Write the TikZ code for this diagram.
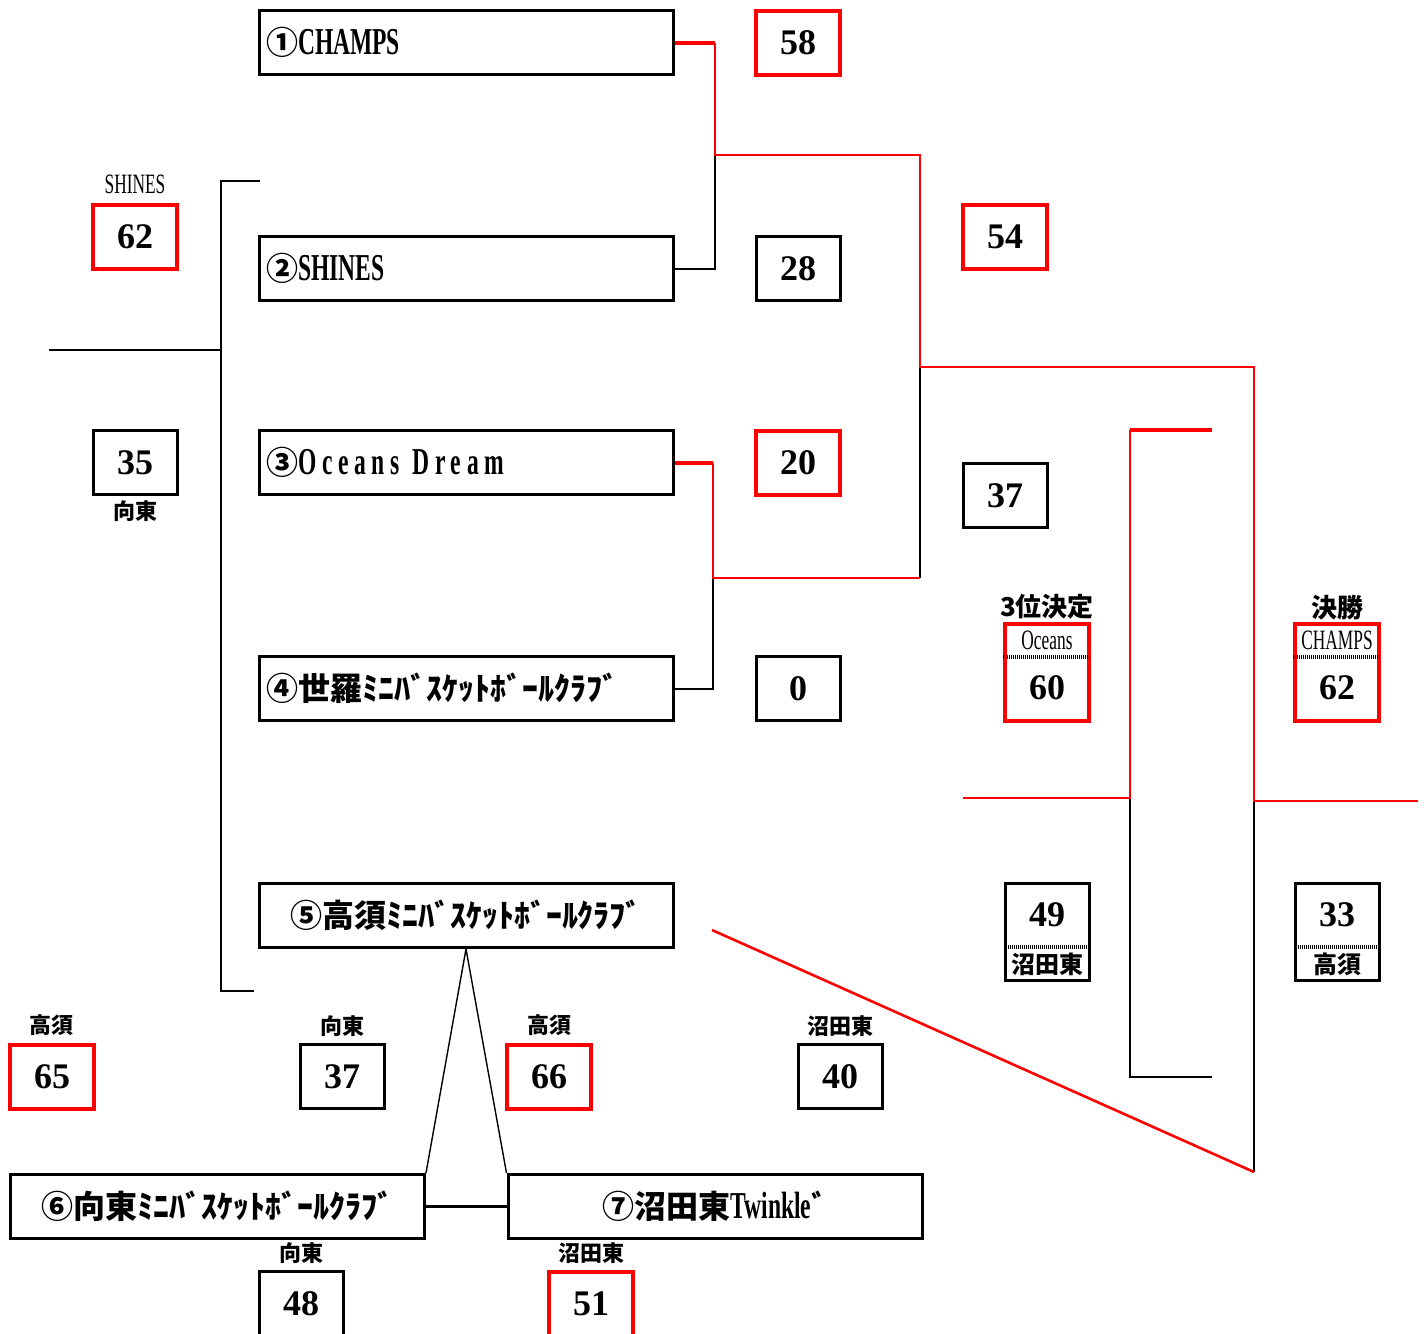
\documentclass[tikz,border=0pt]{standalone}
\usepackage{fontspec}
\setmainfont{Liberation Serif}
\newfontfamily\jp{Noto Sans CJK JP}
\newfontfamily\narrow[FakeStretch=0.62]{Liberation Serif}
\newfontfamily\spaced[FakeStretch=0.62,LetterSpace=15]{Liberation Serif}
\newcommand\jt{\jp\fontsize{16}{18}\selectfont}
\usetikzlibrary{positioning}
\tikzset{
  team/.style={draw,line width=1.5pt,minimum width=207pt,minimum height=32pt,inner sep=3pt,font=\narrow\bfseries\fontsize{19}{21}\selectfont},
  teaml/.style={team,text width=200pt,align=left},
  teamc/.style={team,text width=200pt,align=center},
  score/.style={draw,line width=1.5pt,minimum width=42pt,minimum height=32pt,inner sep=0pt,font=\bfseries\fontsize{18}{20}\selectfont},
  winscore/.style={score,draw=red,line width=2pt},
  tallscore/.style={minimum height=48.5pt},
  club/.style={inner sep=0pt,font=\jp\bfseries\fontsize{11}{12}\selectfont},
  clubname/.style={inner sep=0pt,font=\narrow\fontsize{14}{15}\selectfont},
  pts/.style={inner sep=0pt,font=\bfseries\fontsize{18}{20}\selectfont},
  bracket/.style={line width=1pt,black},
  winpath/.style={line width=1.3pt,red},
  winstub/.style={line width=2pt,red},
  dotline/.style={line width=2pt,dash pattern=on 0.5pt off 0.5pt},
}

\begin{document}
\begin{tikzpicture}[x=0.5pt,y=-0.5pt]
	\useasboundingbox (0,0) rectangle (1426,1334);
	% teams
	\node[teaml] (T1) at (466,42.5) {{\jt ①}CHAMPS};
	\node[teaml] (T2) at (466,268.5) {{\jt ②}SHINES};
	\node[teaml] (T3) at (466,462.5) {{\jt ③}{\spaced Oceans Dream}};
	\node[teaml] (T4) at (466,688.5) {\jt ④世羅ﾐﾆﾊﾞｽｹｯﾄﾎﾞｰﾙｸﾗﾌﾞ};
	\node[teamc] (T5) at (466,915.5) {\jt ⑤高須ﾐﾆﾊﾞｽｹｯﾄﾎﾞｰﾙｸﾗﾌﾞ};
	\node[teamc] (T6) at (217.5,1206.5) {\jt ⑥向東ﾐﾆﾊﾞｽｹｯﾄﾎﾞｰﾙｸﾗﾌﾞ};
	\node[teamc] (T7) at (715,1206.5) {{\jt ⑦沼田東}Twinkle{\jt ﾞ}};
	% first round scores
	\node[winscore] (S1) at (798,42.5) {58};
	\node[score] (S2) at (798,268.5) {28};
	\node[winscore] (S3) at (798,462.5) {20};
	\node[score] (S4) at (798,688.5) {0};
	\node[winscore] (SF1) at (1005,236.5) {54};
	\node[score] (SF2) at (1005,495.5) {37};
	\node[winscore] (SA) at (135,236.5) {62};
	\node[clubname,above=4pt of SA] (SAn) {SHINES};
	\node[score] (SB) at (135,462.5) {35};
	\node[club,below=2pt of SB] (SBn) {向東};
	% league scores
	\node[winscore] (L1) at (52,1076.5) {65};
	\node[club,above=3pt of L1] (L1n) {高須};
	\node[score] (L2) at (342,1076.5) {37};
	\node[club,above=3pt of L2] (L2n) {向東};
	\node[winscore] (L3) at (549,1076.5) {66};
	\node[club,above=3pt of L3] (L3n) {高須};
	\node[score] (L4) at (840,1076.5) {40};
	\node[club,above=3pt of L4] (L4n) {沼田東};
	\node[score] (L5) at (301,1303.5) {48};
	\node[club,above=3pt of L5] (L5n) {向東};
	\node[winscore] (L6) at (591,1303.5) {51};
	\node[club,above=3pt of L6] (L6n) {沼田東};
	% placing games
	\node[winscore,tallscore] (TP) at (1047,672.5) {};
	\node[club,font=\jp\bfseries\fontsize{13}{14}\selectfont,above=1pt of TP] (TPn) {3位決定};
	\node[clubname] (TPw) at (1047,640) {Oceans};
	\node[pts] (TPs) at (1047,688) {60};
	\draw[dotline] (TP.west |- 0,657) -- (TP.east |- 0,657);
	\node[winscore,tallscore] (FI) at (1337,672.5) {};
	\node[club,font=\jp\bfseries\fontsize{13}{14}\selectfont,above=1pt of FI] (FIn) {決勝};
	\node[clubname] (FIw) at (1337,640) {CHAMPS};
	\node[pts] (FIs) at (1337,688) {62};
	\draw[dotline] (FI.west |- 0,657) -- (FI.east |- 0,657);
	\node[score,tallscore] (TQ) at (1047,931.5) {};
	\node[pts] (TQs) at (1047,915) {49};
	\node[club,font=\jp\bfseries\fontsize{12}{13}\selectfont] (TQw) at (1047,964) {沼田東};
	\draw[dotline] (TQ.west |- 0,947) -- (TQ.east |- 0,947);
	\node[score,tallscore] (FJ) at (1337,931.5) {};
	\node[pts] (FJs) at (1337,915) {33};
	\node[club,font=\jp\bfseries\fontsize{12}{13}\selectfont] (FJw) at (1337,964) {高須};
	\draw[dotline] (FJ.west |- 0,947) -- (FJ.east |- 0,947);
	% joints
	\coordinate (Q1) at (715,155);
	\coordinate (Q2) at (713,578);
	\coordinate (SF) at (920,367);
	\coordinate (FN) at (1254,801);
	\coordinate (FNout) at (1418,801);
	\coordinate (FNbot) at (1254,1172);
	\coordinate (Dst) at (712,930);
	\coordinate (TPj) at (1130,798);
	\coordinate (TPin) at (963,798);
	\coordinate (TPtop) at (1130,430);
	\coordinate (TPtopout) at (1212,430);
	\coordinate (TPbot) at (1130,1077);
	\coordinate (TPbotout) at (1212,1077);
	\coordinate (LBtop) at (221,181);
	\coordinate (LBtopout) at (260,181);
	\coordinate (LBbot) at (221,991);
	\coordinate (LBbotout) at (254,991);
	\coordinate (LBmid) at (221,350);
	\coordinate (LBout) at (49,350);
	% black lines
	\draw[bracket] (T2.east) -| (Q1);
	\draw[bracket] (T4.east) -| (Q2);
	\draw[bracket] (SF) -- (SF |- Q2);
	\draw[bracket] (FN) -- (FNbot);
	\draw[bracket] (TPj) -- (TPbot) -- (TPbotout);
	\draw[bracket] (LBtopout) -- (LBtop) -- (LBbot) -- (LBbotout);
	\draw[bracket] (LBmid) -- (LBout);
	\draw[bracket,line width=0.7pt] (T5.south) -- (T6.north east);
	\draw[bracket,line width=0.7pt] (T5.south) -- (T7.north west);
	\draw[bracket,line width=1.5pt] (T6.east) -- (T7.west);
	% red lines
	\draw[winstub] (T1.east) -- (T1.east -| Q1);
	\draw[winpath] (T1.east -| Q1) -- (Q1) -- (Q1 -| SF) -- (SF) -- (SF -| FN) -- (FN) -- (FNout);
	\draw[winstub] (T3.east) -- (T3.east -| Q2);
	\draw[winpath] (T3.east -| Q2) -- (Q2) -- (SF |- Q2);
	\draw[winpath] (TPin) -- (TPj) -- (TPtop);
	\draw[winstub] (TPtop) -- (TPtopout);
	\draw[winpath] (Dst) -- (FNbot);
\end{tikzpicture}
\end{document}
